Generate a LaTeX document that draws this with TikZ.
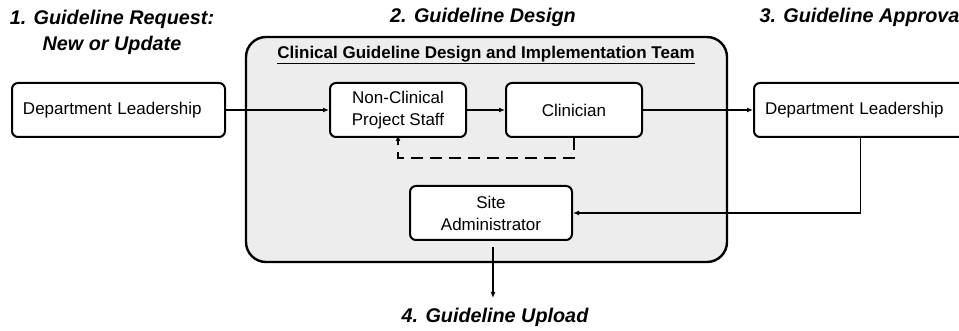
\documentclass[tikz,border=0pt]{standalone}
\usepackage{fontspec}
\setmainfont{Liberation Sans}
\usetikzlibrary{arrows.meta}
\tikzset{
  box/.style={draw, line width=2pt, rounded corners=6pt, fill=white, minimum height=54pt, align=center, inner sep=2pt, font=\fontsize{17}{22}\selectfont},
  head/.style={font=\fontsize{19.8}{26}\selectfont\bfseries\itshape, align=center},
  conn/.style={line width=1.4pt, -{Latex[length=6pt,width=5pt]}},
  team/.style={draw, line width=2.4pt, rounded corners=20pt, fill=black!7, minimum width=481pt, minimum height=225pt},
  dlbox/.style={box, minimum width=213pt, text width=191pt, align=left},
}
\begin{document}
\begin{tikzpicture}[x=1pt,y=-1pt]
\useasboundingbox (0,0) rectangle (959,331);
\clip (0,0) rectangle (959,331);
\node[team] (tm) at (486.5,149.5) {};
\node[font=\fontsize{17}{20}\selectfont\bfseries] (tt) at (486,55) {\underline{Clinical Guideline Design and Implementation Team}};
\node[head] (h1) at (112,32) {1. Guideline Request:\\New or Update};
\node[head] (h2) at (483,17) {2. Guideline Design};
\node[head, anchor=west] (h3) at (756,17) {3. Guideline Approval};
\node[dlbox] (dl) at (118.5,110) {Department Leadership};
\node[box, minimum width=136pt] (nc) at (398,110) {Non-Clinical\\Project Staff};
\node[box, minimum width=136pt] (cl) at (574,110) {Clinician};
\node[dlbox] (dr) at (860.5,110) {Department Leadership};
\node[box, minimum width=162pt] (sa) at (491,213) {Site\\Administrator};
\node[head] (h4) at (495,317) {4. Guideline Upload};
\coordinate (up) at (493,298);
\coordinate (upstart) at (493,247);
\draw[conn] (dl.east) -- (nc.west);
\draw[conn] (nc.east) -- (cl.west);
\draw[conn] (cl.east) -- (dr.west);
\draw[conn] (dr.south) |- (sa.east);
\draw[conn] (upstart) -- (up);
\draw[conn, dash pattern=on 12pt off 7pt] (cl.south) -- ++(0,20) -| ([yshift=3pt]nc.south);
\end{tikzpicture}
\end{document}
